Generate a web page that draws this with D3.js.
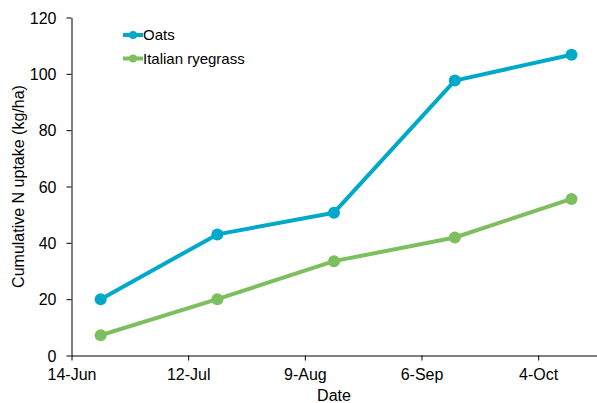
<!DOCTYPE html>
<html><head><meta charset="utf-8">
<script src="https://cdn.jsdelivr.net/npm/d3@7"></script>
<style>body{margin:0;background:#fff}svg{display:block}text{font-family:"Liberation Sans",Arial,sans-serif;fill:#000}</style>
</head><body><svg id="c" width="597" height="403"></svg>
<script>
const dates = ["2013-06-21","2013-07-19","2013-08-16","2013-09-14","2013-10-12"];
const oats = [20, 43, 50.7, 97.6, 106.8];
const ryegrass = [7.2, 20, 33.5, 41.9, 55.6];
const seriesNames = ["Oats","Italian ryegrass"];
const colors = ["#00A9C9","#7DBE5F"];
const xTicks = ["2013-06-14","2013-07-12","2013-08-09","2013-09-06","2013-10-04"];
const yTicks = [0,20,40,60,80,100,120];

const parse = d3.timeParse("%Y-%m-%d");
const fmt = d3.timeFormat("%-d-%b");
const svg = d3.select("#c");
const x = d3.scaleTime().domain([parse("2013-06-14"), parse("2013-10-18")]).range([71.5, 596.5]);
const y = d3.scaleLinear().domain([0,120]).range([355.5,17.5]);

const xa = svg.append("g").attr("transform","translate(0,355.5)")
  .call(d3.axisBottom(x).tickValues(xTicks.map(parse)).tickFormat(fmt).tickSize(5).tickSizeOuter(0));
const ya = svg.append("g").attr("transform","translate(71.5,0)")
  .call(d3.axisLeft(y).tickValues(yTicks).tickSize(5).tickSizeOuter(0).tickPadding(10));
[xa,ya].forEach(a=>{a.selectAll("path,line").attr("stroke","#000");a.selectAll("text").style("font-size","16px").attr("fill","#000");});
xa.selectAll("text").attr("dy","1em").attr("y",8);
ya.selectAll("text").attr("dy","0.35em");

svg.append("text").attr("x",334).attr("y",401).attr("text-anchor","middle").style("font-size","16px").text("Date");
svg.append("text").attr("transform","translate(24,186.5) rotate(-90)").attr("text-anchor","middle").style("font-size","16px").text("Cumulative N uptake (kg/ha)");

const data = [oats, ryegrass];
const line = d3.line().x((d,i)=>x(parse(dates[i]))).y(d=>y(d));
data.forEach((s,k)=>{
  svg.append("path").datum(s).attr("d",line).attr("fill","none").attr("stroke",colors[k]).attr("stroke-width",4).attr("stroke-linejoin","round");
  svg.selectAll(null).data(s).enter().append("circle")
    .attr("cx",(d,i)=>x(parse(dates[i]))).attr("cy",d=>y(d)).attr("r",6).attr("fill",colors[k]);
});

const lg = svg.append("g");
seriesNames.forEach((n,k)=>{
  const ly = 35 + k*23.5;
  lg.append("line").attr("x1",123).attr("x2",143).attr("y1",ly).attr("y2",ly).attr("stroke",colors[k]).attr("stroke-width",4);
  lg.append("circle").attr("cx",133).attr("cy",ly).attr("r",4).attr("fill",colors[k]);
  lg.append("text").attr("x",143).attr("y",ly).attr("dy","0.35em").style("font-size","15px").text(n);
});
</script></body></html>
